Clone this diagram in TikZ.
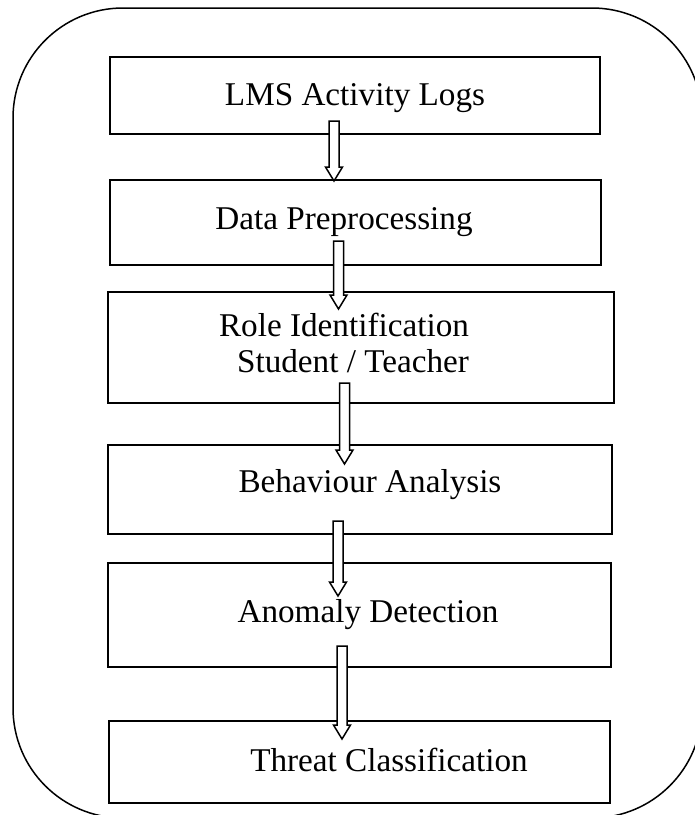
\documentclass[tikz,border=0pt]{standalone}
\usepackage{fontspec}
\setmainfont{Liberation Serif}
\usetikzlibrary{calc}
\tikzset{
 stage/.style={draw,line width=1pt,inner sep=0pt},
 stagetext/.style={font=\fontsize{16.6}{19}\selectfont,inner sep=0pt},
 flowarrow/.style={draw,fill=white,line width=0.75pt,line join=miter}
}
\begin{document}
\begin{tikzpicture}[x=0.5pt,y=-0.5pt]
\useasboundingbox (0,0) rectangle (695,815);
\draw[line width=0.75pt,rounded corners=55pt] (13,8) rectangle (702,818);
\foreach \nm/\cx/\cy/\w/\h in {logs/355/95.5/245/38.5, prep/355.5/222.5/245.5/42.5, role/361/347.5/253/55.5, behav/360/489.5/252/44.5, anom/359.5/615/251.5/52, threat/359.5/762/250.5/41}
 \node[stage,minimum width=\w pt,minimum height=\h pt] (\nm) at (\cx,\cy) {};
\node[stagetext] (logstxt) at (355,98) {LMS Activity Logs};
\node[stagetext] (preptxt) at (344,222) {Data Preprocessing};
\node[stagetext] (roletxt) at (344,325) {Role Identification};
\node[stagetext] (roletxtb) at (353,361) {Student / Teacher};
\node[stagetext] (behavtxt) at (370,485) {Behaviour Analysis};
\node[stagetext] (anomtxt) at (368,615) {Anomaly Detection};
\node[stagetext] (threattxt) at (389,760) {Threat Classification};
\foreach \a/\b/\dx/\st/\en in {logs/prep/-21/-14/2, prep/role/-17/-25/18, role/behav/-16.5/-21/20, behav/anom/-22/-14/34, anom/threat/-17.5/-22/19}
 \draw[flowarrow] let \p1=($(\a.south)+(\dx,\st)$), \p2=($(\b.north)+(0,\en)$) in
  (\x1-2.5pt,\y1) -- (\x1+2.5pt,\y1) -- (\x1+2.5pt,\y2+7pt) -- (\x1+4.25pt,\y2+7pt)
  -- (\x1,\y2) -- (\x1-4.25pt,\y2+7pt) -- (\x1-2.5pt,\y2+7pt) -- cycle;
\end{tikzpicture}
\end{document}
